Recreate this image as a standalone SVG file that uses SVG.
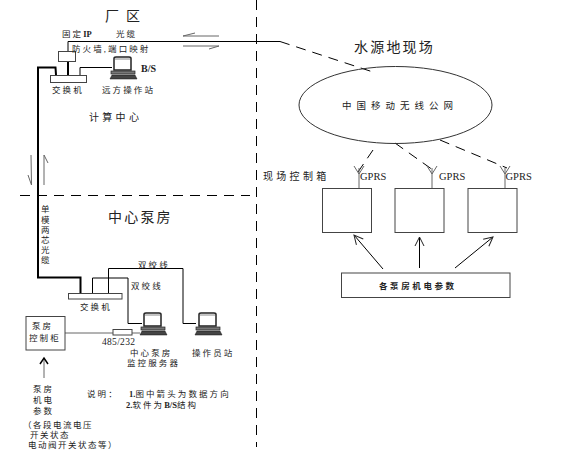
<svg xmlns="http://www.w3.org/2000/svg" width="567" height="464" viewBox="0 0 567 464">
<style>
text{font-family:"Liberation Serif","Noto Sans CJK SC",serif;font-size:8.500px;fill:#222;letter-spacing:2.100px}
.big{font-size:14px;letter-spacing:2.200px}
.mid{font-size:10px;letter-spacing:3.300px}
.b{font-weight:bold;letter-spacing:0}
.l{font-size:10.500px;letter-spacing:0}
.line{fill:none;stroke:#000;stroke-width:1}
.gr{fill:none;stroke:#666;stroke-width:1}
.thick{fill:none;stroke:#000;stroke-width:2}
.dash{fill:none;stroke:#000;stroke-width:1;stroke-dasharray:10 7}
.box{fill:#fff;stroke:#444;stroke-width:1}
</style>
<defs>
<g id="laptop">
<path d="M3 1.500Q3 0 5 0H18Q20 0 20 1.500V13H3Z" fill="#fff" stroke="#222" stroke-width="1.500"/>
<path d="M4 2H19" stroke="#888" stroke-width="1"/>
<rect x="0" y="14" width="24" height="3" fill="#777" stroke="#222" stroke-width="0.700"/>
<path d="M1 18H24L26 22H-1Z" fill="#444" stroke="#111" stroke-width="0.500"/>
</g>
<marker id="open" markerWidth="12" markerHeight="12" refX="10" refY="6" orient="auto" markerUnits="userSpaceOnUse"><path d="M1 1.500L10 6L1 10.500" fill="none" stroke="#222" stroke-width="1"/></marker>
</defs>
<g id="connectors">
<path class="dash" d="M256.500 0V447"/>
<path class="dash" d="M20 195.500H250"/>
<path class="line" d="M68 51V41.500H280"/>
<path class="dash" d="M280 41.500L373 72"/>
<path class="gr" d="M183 36H219M183 36L195 33"/>
<path class="gr" d="M183 46H219M219 46L209 49"/>
<path class="thick" d="M68 61V75"/>
<path class="thick" d="M56 75L55.500 67.500H38V277.500H80.500V294"/>
<path class="line" d="M80 75V67.500H112"/>
<path class="gr" d="M31 155L31.500 185L28 175"/>
<path class="gr" d="M44 185V155L48 163"/>
<path class="line" d="M92.500 294V278H128V323.500H142"/>
<path class="line" d="M108.500 294V268.500H183V323.500H196"/>
<path class="gr" d="M65 333H113M132 333H140"/>
<path d="M44 378V358" class="gr"/>
<path d="M40 364L44 358L48 364" fill="none" stroke="#000" stroke-width="1.500"/>
<path class="dash" d="M373 150L358 172"/>
<path class="dash" d="M395 143L433 170"/>
<path class="dash" d="M440 140L507 168"/>
<g class="gr">
<path d="M359 188V168M354 166L359 174L364 166"/>
<path d="M432 188V168M427 166L432 174L437 166"/>
<path d="M505 188V168M500 166L505 174L510 166"/>
</g>
<path class="line" stroke="#333" marker-end="url(#open)" d="M383 269L354 235"/>
<path class="line" stroke="#333" marker-end="url(#open)" d="M419.500 268V237"/>
<path class="line" stroke="#333" marker-end="url(#open)" d="M455 268L493 237"/>
</g>
<g id="title-factory"><text class="big" x="105" y="21" style="letter-spacing:5px">厂</text><text class="big" x="126" y="21">区</text></g>
<g id="label-ip"><text x="62" y="37">固定<tspan class="b">IP</tspan></text><text x="116" y="37">光缆</text></g>
<g id="firewall"><rect class="box" x="58.500" y="51.500" width="17" height="10"/><text x="72" y="52">防火墙,端口映射</text></g>
<g id="switch1"><rect class="box" x="50.500" y="75.500" width="36" height="7"/><text x="52" y="93">交换机</text></g>
<g id="remote-station"><use href="#laptop" x="111" y="57"/><text class="b" x="141" y="72" style="font-size:10px">B/S</text><text x="102" y="93">远方操作站</text></g>
<g id="calc"><text class="mid" x="89" y="121">计算中心</text></g>
<g id="fiber-label"><text x="41" y="212">单</text><text x="41" y="223">模</text><text x="41" y="233">两</text><text x="41" y="243">芯</text><text x="41" y="253">光</text><text x="41" y="263">缆</text></g>
<g id="title-pump"><text class="big" x="108" y="222">中心泵房</text></g>
<g id="twisted"><text x="138" y="268">双绞线</text><text x="131" y="289">双绞线</text></g>
<g id="switch2"><rect class="box" x="68.500" y="293.500" width="53.500" height="5.500"/><text x="80" y="310">交换机</text></g>
<g id="cabinet"><rect class="box" x="26" y="316.500" width="39" height="33.500"/><text x="32" y="329">泵房</text><text x="29" y="341">控制柜</text></g>
<g id="converter"><rect class="box" x="113" y="329.500" width="19" height="5.500"/><text style="letter-spacing:0.300px;font-size:9.500px" x="102" y="345">485/232</text></g>
<g id="server"><use href="#laptop" x="141" y="313"/><text x="130" y="356">中心泵房</text><text x="127" y="366">监控服务器</text></g>
<g id="operator"><use href="#laptop" x="196" y="313"/><text x="192" y="356">操作员站</text></g>
<g id="params"><text x="33" y="392">泵房</text><text x="33" y="403">机电</text><text x="33" y="414">参数</text></g>
<g id="note"><text x="87" y="397">说明：</text><text x="129" y="397"><tspan class="b">1.</tspan>图中箭头为数据方向</text><text x="126" y="408"><tspan class="b">2.</tspan>软件为<tspan class="b">B/S</tspan>结构</text></g>
<g id="params-detail"><text x="23" y="428" style="letter-spacing:1.500px">（各段电流电压</text><text x="30" y="438" style="letter-spacing:1.500px">开关状态</text><text x="28" y="448" style="letter-spacing:1.500px">电动阀开关状态等）</text></g>
<g id="title-site"><text class="big" x="354" y="52">水源地现场</text></g>
<g id="network"><ellipse cx="395.500" cy="105" rx="96.500" ry="38.500" fill="none" stroke="#333"/><text x="342" y="109" style="letter-spacing:5px;font-size:9.500px">中国移动无线公网</text></g>
<g id="site-label"><text x="263" y="180" style="letter-spacing:3.300px;font-size:10px">现场控制箱</text></g>
<g id="box1"><rect class="box" x="322.500" y="188.500" width="49" height="44"/><text class="l" x="360" y="180">GPRS</text></g>
<g id="box2"><rect class="box" x="395" y="188.500" width="49" height="44"/><text class="l" x="439" y="180">GPRS</text></g>
<g id="box3"><rect class="box" x="468" y="188.500" width="49" height="44"/><text class="l" x="505.500" y="180">GPRS</text></g>
<g id="pump-params"><rect class="box" x="341.500" y="273" width="168.500" height="24.500"/><text x="379" y="289" style="font-weight:bold;letter-spacing:2.600px">各泵房机电参数</text></g>
</svg>
